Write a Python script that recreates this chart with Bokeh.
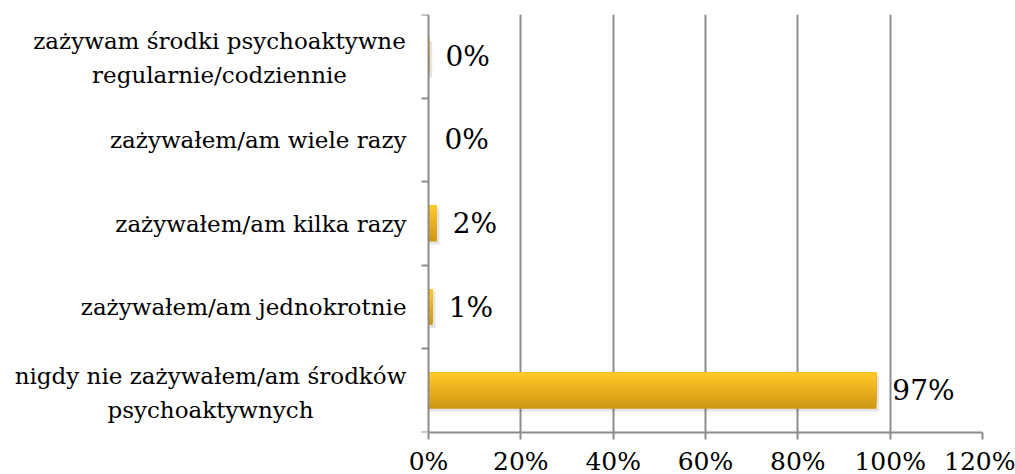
from bokeh.plotting import figure
from bokeh.models import Range1d, FixedTicker, ColumnDataSource, Label
from bokeh.core.properties import value
from bokeh.embed import file_html
from bokeh.resources import INLINE

# data (bottom to top)
categories = [
    "nigdy nie zażywałem/am środków\npsychoaktywnych",
    "zażywałem/am jednokrotnie",
    "zażywałem/am kilka razy",
    "zażywałem/am wiele razy",
    "zażywam środki psychoaktywne\nregularnie/codziennie",
]
values = [97, 0.9, 1.8, 0, 0.2]
value_labels = ["97%", "1%", "2%", "0%", "0%"]
x_ticks = [0, 20, 40, 60, 80, 100, 120]
x_tick_labels = ["0%", "20%", "40%", "60%", "80%", "100%", "120%"]

FONT = "DejaVu Serif"
GRAY = "#8c8c8c"
BAR_H = 0.43
LABEL_PAD = 23
LABEL_SIZE = "23px"

# layout: the plotting frame starts at the canvas left edge, the value axis
# (0..120) occupies the right 554 px, the left part holds the category labels
AXIS_W = 554
LEFT_W = 428
X_MAX = 120
scale = AXIS_W / X_MAX
x_start = -LEFT_W / scale

centers = [i + 0.5 for i in range(len(categories))]

p = figure(frame_width=LEFT_W + AXIS_W, frame_height=418,
           x_range=Range1d(x_start, X_MAX), y_range=Range1d(0, len(categories)),
           output_backend="svg", toolbar_location=None,
           min_border_left=0, min_border_right=33,
           min_border_top=14, min_border_bottom=42)
p.outline_line_color = None

p.hbar(y=[c - 0.035 for c in centers], left=0, right=[v + 0.6 if v > 0 else 0 for v in values],
       height=BAR_H, fill_color="#000000", fill_alpha=0.10, line_color=None)

N = 16
top_col = (0xFF, 0xC8, 0x26)
bot_col = (0xD0, 0x98, 0x14)
ys, hs, rights, cols = [], [], [], []
for c, v in zip(centers, values):
    top = c + BAR_H / 2
    for k in range(N - 1, -1, -1):
        t = k / (N - 1)
        col = tuple(int(round(top_col[j] * (1 - t) + bot_col[j] * t)) for j in range(3))
        h = (k + 1) * BAR_H / N
        ys.append(top - h / 2)
        hs.append(h)
        rights.append(v)
        cols.append("#%02x%02x%02x" % col)
p.hbar(y=ys, left=0, right=rights, height=hs, fill_color=cols, line_color=None)

src = ColumnDataSource(dict(x=values, y=centers, t=value_labels))
p.text(x="x", y="y", text="t", source=src, x_offset=16, text_align="left",
       text_baseline="middle", text_font=value(FONT), text_font_size="28px",
       text_color="black")

p.xaxis.ticker = FixedTicker(ticks=x_ticks)
p.xaxis.bounds = (0, X_MAX)
p.xaxis.major_label_overrides = {t: l for t, l in zip(x_ticks, x_tick_labels)}
p.xaxis.axis_line_color = GRAY
p.xaxis.axis_line_width = 2
p.xaxis.major_tick_line_color = GRAY
p.xaxis.major_tick_line_width = 2
p.xaxis.major_tick_out = 7
p.xaxis.major_tick_in = 0
p.xaxis.minor_tick_line_color = None
p.xaxis.major_label_text_font = FONT
p.xaxis.major_label_text_font_size = "25px"
p.xaxis.major_label_text_color = "black"
p.xaxis.major_label_standoff = 7

p.xgrid.ticker = FixedTicker(ticks=x_ticks[1:])
p.xgrid.grid_line_color = GRAY
p.xgrid.grid_line_width = 2
p.ygrid.grid_line_color = None

single = {c: l for c, l in zip(centers, categories) if "\n" not in l}
multi = [(c, l) for c, l in zip(centers, categories) if "\n" in l]
overrides = {c: single.get(c, "") for c in centers}

p.yaxis.fixed_location = 0
p.yaxis.ticker = FixedTicker(ticks=centers, minor_ticks=[float(i) for i in range(len(categories) + 1)])
p.yaxis.major_label_overrides = overrides
p.yaxis.axis_line_color = GRAY
p.yaxis.axis_line_width = 2
p.yaxis.major_tick_line_color = None
p.yaxis.major_tick_out = 0
p.yaxis.major_tick_in = 0
p.yaxis.minor_tick_line_color = GRAY
p.yaxis.minor_tick_line_width = 2
p.yaxis.minor_tick_out = 7
p.yaxis.minor_tick_in = 0
p.yaxis.major_label_text_font = FONT
p.yaxis.major_label_text_font_size = LABEL_SIZE
p.yaxis.major_label_text_color = "black"
p.yaxis.major_label_standoff = 15

# multi-line category labels: lines centred on each other, block right-aligned
half_widths = {"zażywam środki psychoaktywne": 186, "nigdy nie zażywałem/am środków": 195}
for c, l in multi:
    first = l.split("\n")[0]
    hw = half_widths.get(first, 190)
    p.add_layout(Label(x=0, y=c, text=l, x_offset=-(LABEL_PAD + hw), y_offset=-2,
                       text_align="center", text_baseline="middle",
                       text_font=FONT, text_font_size=LABEL_SIZE,
                       text_color="black", text_line_height=1.3))

open("out.html", "w").write(file_html(p, INLINE))
